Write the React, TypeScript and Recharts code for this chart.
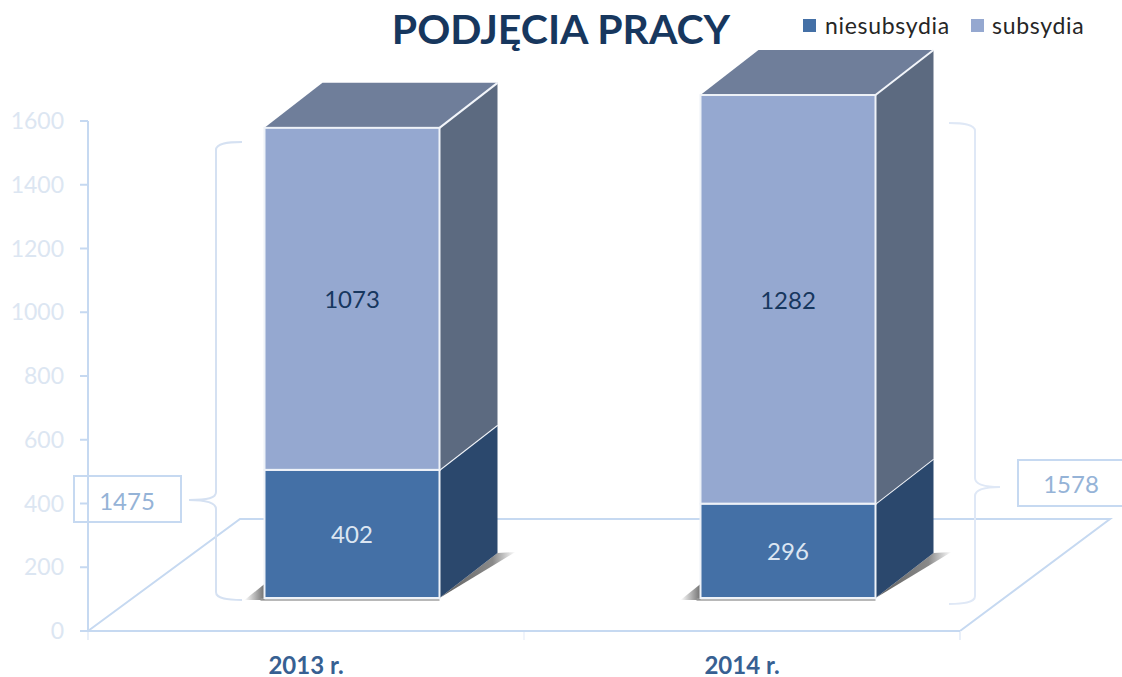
import React from "react";
import { BarChart, Bar, XAxis, YAxis, Legend, LabelList, Customized } from "recharts";

const categories = ["2013 r.", "2014 r."];
const niesubsydia = [402, 296];
const subsydia = [1073, 1282];
const totals = ["1475", "1578"];
const yTicks = [0, 200, 400, 600, 800, 1000, 1200, 1400, 1600];
const rows = categories.map((name, i) => ({ name, niesubsydia: niesubsydia[i], subsydia: subsydia[i] }));

const FONT = "Lato, 'Open Sans', sans-serif";
const AXIS = "#c6d9f1";
const OFF_X = 45.5;
const OFF_Y = -33;
const DX = 58;
const DY = -45;

function Box3D(props: any) {
  const { x, y, width, height, fill, side, top } = props;
  const l = x + OFF_X;
  const r = l + width;
  const t = y + OFF_Y;
  const b = t + height;
  return (
    <g>
      {props.shadow && (
        <g>
          <polygon points={`${l - 20},${b + 2} ${l},${b - 14} ${l},${b + 2}`} fill="url(#shL)" />
          <polygon points={`${r},${b} ${r + DX},${b + DY} ${r + DX + 18},${b + DY - 1}`} fill="url(#shR)" />
          <rect x={l - 4} y={b} width={width + 4} height={3} fill="#9a9a9a" opacity={0.7} />
        </g>
      )}
      <polygon points={`${r},${t} ${r + DX},${t + DY} ${r + DX},${b + DY} ${r},${b}`} fill={side} stroke="none" />
      {top && (
        <polygon points={`${l},${t} ${l + DX},${t + DY} ${r + DX},${t + DY} ${r},${t}`} fill={top} stroke="none" />
      )}
      <line x1={r} y1={t} x2={r + DX} y2={t + DY} stroke="#f2f5fa" strokeWidth={2} />
      <rect x={l} y={t} width={width} height={height} fill={fill} stroke="#eef2f8" strokeWidth={2} />
    </g>
  );
}

const lowerShape = (p: any) => <Box3D {...p} fill="#4470a6" side="#2b486d" shadow />;
const upperShape = (p: any) => <Box3D {...p} fill="#95a8d0" side="#5c6a80" top="#6f7e9a" />;

function valueLabel(color: string) {
  return (p: any) => (
    <text
      x={p.x + p.width / 2 + OFF_X}
      y={p.y + p.height / 2 + OFF_Y}
      textAnchor="middle"
      dominantBaseline="central"
      fontFamily={FONT}
      fontSize={24}
      fill={color}
    >
      {p.value}
    </text>
  );
}

const Floor = () => (
  <g fill="none" stroke={AXIS} strokeWidth={2}>
    <polyline points="88,631 240,519 1110,519 960,631" />
    <line x1="88" y1="631" x2="88" y2="640" stroke="#e8eff9" />
    <line x1="524" y1="631" x2="524" y2="640" stroke="#f0f4fb" />
    <line x1="960" y1="631" x2="960" y2="640" stroke="#e8eff9" />
  </g>
);

const Overlay = () => (
  <g>
    <path
      d="M242,142 C228,142 216,143 216,150 L216,492 C216,498 208,500 189,500 C208,500 216,503 216,509 L216,592 C216,599 228,600 242,600"
      fill="none"
      stroke="#d5e1f2"
      strokeWidth={2}
    />
    <path
      d="M949,123 C962,123 975,124 975,131 L975,478 C975,484 984,487 1000,487 C984,487 975,490 975,496 L975,596 C975,603 962,604 949,604"
      fill="none"
      stroke="#dfe8f6"
      strokeWidth={2}
    />
    <rect x={74} y={476} width={107} height={46} fill="#fff" stroke={AXIS} strokeWidth={2} />
    <text x={127} y={500} textAnchor="middle" dominantBaseline="central" fontFamily={FONT} fontSize={24} fill="#95b3d7">
      {totals[0]}
    </text>
    <rect x={1018} y={460} width={110} height={46} fill="#fff" stroke={AXIS} strokeWidth={2} />
    <text x={1071} y={483} textAnchor="middle" dominantBaseline="central" fontFamily={FONT} fontSize={24} fill="#95b3d7">
      {totals[1]}
    </text>
    <text x={561} y={28} textAnchor="middle" dominantBaseline="central" fontFamily={FONT} fontWeight={700} fontSize={41} fill="#17375e">
      PODJĘCIA PRACY
    </text>
  </g>
);

const Defs = () => (
  <defs>
    <linearGradient id="shL" x1="0" y1="0" x2="1" y2="0">
      <stop offset="0" stopColor="#ffffff" />
      <stop offset="1" stopColor="#707070" />
    </linearGradient>
    <linearGradient id="shR" x1="0" y1="0" x2="1" y2="0">
      <stop offset="0" stopColor="#606060" />
      <stop offset="0.7" stopColor="#8a8a8a" />
      <stop offset="1" stopColor="#ffffff" />
    </linearGradient>
  </defs>
);

const legendContent = () => (
  <div style={{ display: "flex", alignItems: "center", fontFamily: FONT, fontSize: 23, letterSpacing: 0.7, color: "#262626" }}>
    <span style={{ width: 13, height: 13, background: "#4470a6", marginRight: 9 }} />
    <span style={{ marginRight: 21 }}>niesubsydia</span>
    <span style={{ width: 13, height: 13, background: "#95a8d0", marginRight: 8 }} />
    <span>subsydia</span>
  </div>
);

export default function App() {
  return (
    <div style={{ position: "absolute", left: 0, top: 0, width: 1122, height: 677, background: "#fff", overflow: "hidden" }}>
      <BarChart
        width={1122}
        height={677}
        data={rows}
        margin={{ top: 121, right: 162, bottom: 0, left: 0 }}
        style={{ overflow: "visible" }}
      >
        <Customized component={<Defs />} />
        <YAxis
          domain={[0, 1600]}
          ticks={yTicks}
          width={88}
          stroke={AXIS}
          strokeWidth={2}
          tickSize={8}
          tickMargin={16}
          interval={0}
          tick={{ fontFamily: FONT, fontSize: 23, fill: "#dce6f2" }}
        />
        <XAxis
          dataKey="name"
          stroke={AXIS}
          strokeWidth={2}
          tickLine={false}
          tickMargin={20}
          height={46}
          tick={{ fontFamily: FONT, fontSize: 24, fontWeight: 700, fill: "#376092" }}
        />
        <Customized component={<Floor />} />
        <Bar dataKey="niesubsydia" stackId="a" barSize={175} fill="#4470a6" shape={lowerShape} isAnimationActive={false}>
          <LabelList dataKey="niesubsydia" content={valueLabel("#dce6f2")} />
        </Bar>
        <Bar dataKey="subsydia" stackId="a" barSize={175} fill="#95a8d0" shape={upperShape} isAnimationActive={false}>
          <LabelList dataKey="subsydia" content={valueLabel("#17375e")} />
        </Bar>
        <Customized component={<Overlay />} />
        <Legend
          layout="horizontal"
          verticalAlign="middle"
          align="center"
          content={legendContent}
          wrapperStyle={{ position: "absolute", left: 803, top: 11, width: 310, height: 30 }}
        />
      </BarChart>
    </div>
  );
}
